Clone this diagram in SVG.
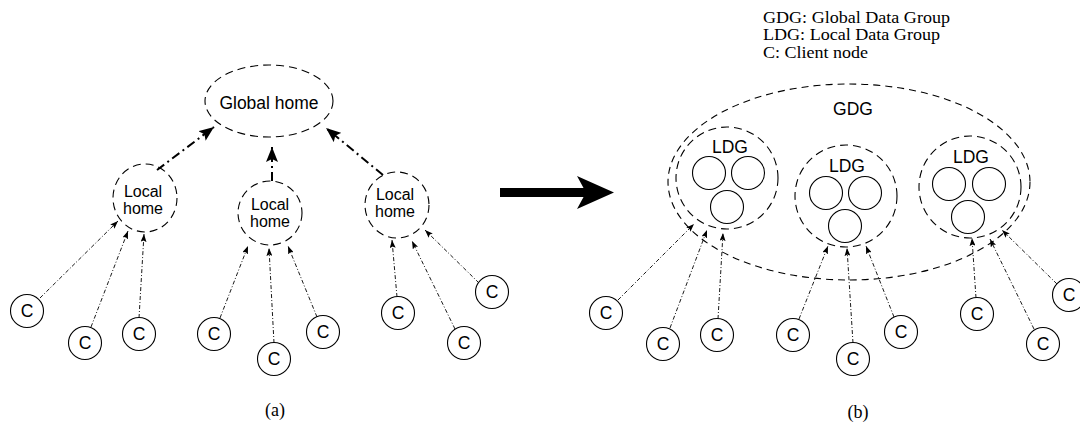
<svg xmlns="http://www.w3.org/2000/svg" width="1080" height="426" viewBox="0 0 1080 426">
<style>
.bg{fill:#fff}
.home{fill:none;stroke:#000;stroke-width:1.1;stroke-dasharray:8 5}
.grp{fill:none;stroke:#000;stroke-width:1.1;stroke-dasharray:7 5}
.cl{fill:#fff;stroke:#000;stroke-width:1.1}
.sub{fill:none;stroke:#000;stroke-width:1.1}
.lbl{font-family:"Liberation Sans",Arial,sans-serif;font-size:17.5px;fill:#000;text-anchor:middle}
.lh{font-family:"Liberation Sans",Arial,sans-serif;font-size:16px;fill:#000;text-anchor:middle}
.cap{font-family:"Liberation Serif","Times New Roman",serif;font-size:18px;fill:#000}
.leg{font-family:"Liberation Serif","Times New Roman",serif;font-size:16px;fill:#000}
.up{fill:none;stroke:#000;stroke-width:2;stroke-dasharray:9 4 2 4}
.cn{fill:none;stroke:#000;stroke-width:0.9;stroke-dasharray:4 2 1 2}
</style>
<defs>
<marker id="big" markerUnits="userSpaceOnUse" markerWidth="16" markerHeight="12" refX="15" refY="6" orient="auto">
<path d="M0,0 L15,6 L0,12 L3,6 z" fill="#000"/>
</marker>
<marker id="sm" markerUnits="userSpaceOnUse" markerWidth="9" markerHeight="6" refX="8" refY="3" orient="auto">
<path d="M0,0 L8,3 L0,6 L1.5,3 z" fill="#000"/>
</marker>
</defs>
<rect class="bg" x="0" y="0" width="1080" height="426"/>

<g id="connectors">
<line class="up" x1="157" y1="170" x2="214" y2="127" marker-end="url(#big)"/>
<line class="up" x1="272" y1="181" x2="272" y2="147" marker-end="url(#big)"/>
<line class="up" x1="383" y1="175" x2="326" y2="128" marker-end="url(#big)"/>

<line class="cn" x1="40" y1="298" x2="118" y2="221" marker-end="url(#sm)"/>
<line class="cn" x1="91" y1="327" x2="128" y2="231" marker-end="url(#sm)"/>
<line class="cn" x1="139" y1="318" x2="144" y2="234" marker-end="url(#sm)"/>
<line class="cn" x1="220" y1="318" x2="248" y2="246" marker-end="url(#sm)"/>
<line class="cn" x1="274" y1="343" x2="269" y2="248" marker-end="url(#sm)"/>
<line class="cn" x1="317" y1="317" x2="288" y2="246" marker-end="url(#sm)"/>
<line class="cn" x1="397" y1="297" x2="392" y2="240" marker-end="url(#sm)"/>
<line class="cn" x1="455" y1="329" x2="412" y2="241" marker-end="url(#sm)"/>
<line class="cn" x1="479" y1="283" x2="425" y2="230" marker-end="url(#sm)"/>

<line class="cn" x1="618" y1="300" x2="694" y2="224" marker-end="url(#sm)"/>
<line class="cn" x1="670" y1="328" x2="707" y2="230" marker-end="url(#sm)"/>
<line class="cn" x1="718" y1="319" x2="723" y2="233" marker-end="url(#sm)"/>
<line class="cn" x1="799" y1="319" x2="828" y2="246" marker-end="url(#sm)"/>
<line class="cn" x1="853" y1="343" x2="847" y2="248" marker-end="url(#sm)"/>
<line class="cn" x1="894" y1="317" x2="866" y2="246" marker-end="url(#sm)"/>
<line class="cn" x1="976" y1="298" x2="972" y2="238" marker-end="url(#sm)"/>
<line class="cn" x1="1034" y1="329" x2="990" y2="239" marker-end="url(#sm)"/>
<line class="cn" x1="1057" y1="284" x2="1002" y2="230" marker-end="url(#sm)"/>
</g>

<g id="global-home">
<ellipse class="home" cx="269" cy="101" rx="64" ry="36"/>
<text class="lbl" x="269" y="109">Global home</text>
</g>
<g id="local-home-1">
<ellipse class="home" cx="145" cy="198" rx="32" ry="34"/>
<text class="lh" x="143" y="197">Local</text>
<text class="lh" x="143" y="214">home</text>
</g>
<g id="local-home-2">
<ellipse class="home" cx="270" cy="213" rx="32" ry="32"/>
<text class="lh" x="270" y="210">Local</text>
<text class="lh" x="270" y="227">home</text>
</g>
<g id="local-home-3">
<ellipse class="home" cx="397" cy="205" rx="32" ry="33"/>
<text class="lh" x="395" y="200">Local</text>
<text class="lh" x="395" y="217">home</text>
</g>

<g id="a-c1"><circle class="cl" cx="27" cy="311" r="16.5"/><text class="lbl" x="27" y="317">C</text></g>
<g id="a-c2"><circle class="cl" cx="85" cy="343" r="16.5"/><text class="lbl" x="85" y="349">C</text></g>
<g id="a-c3"><circle class="cl" cx="139" cy="334" r="16.5"/><text class="lbl" x="139" y="340">C</text></g>
<g id="a-c4"><circle class="cl" cx="214" cy="334" r="16.5"/><text class="lbl" x="214" y="340">C</text></g>
<g id="a-c5"><circle class="cl" cx="274" cy="359" r="16.5"/><text class="lbl" x="274" y="365">C</text></g>
<g id="a-c6"><circle class="cl" cx="323" cy="332" r="16.5"/><text class="lbl" x="323" y="338">C</text></g>
<g id="a-c7"><circle class="cl" cx="398" cy="313" r="16.5"/><text class="lbl" x="398" y="319">C</text></g>
<g id="a-c8"><circle class="cl" cx="464" cy="343" r="16.5"/><text class="lbl" x="464" y="349">C</text></g>
<g id="a-c9"><circle class="cl" cx="492" cy="292" r="16.5"/><text class="lbl" x="492" y="298">C</text></g>

<g id="transform-arrow">
<rect x="500" y="188" width="86" height="9" fill="#000"/>
<path d="M577,176 L614,192.5 L577,209 L586,192.5 z" fill="#000"/>
</g>

<g id="legend">
<text class="leg" x="763" y="22.5" textLength="187" lengthAdjust="spacingAndGlyphs">GDG: Global Data Group</text>
<text class="leg" x="763" y="40" textLength="177" lengthAdjust="spacingAndGlyphs">LDG: Local Data Group</text>
<text class="leg" x="763" y="57.5" textLength="105" lengthAdjust="spacingAndGlyphs">C: Client node</text>
</g>

<g id="gdg">
<ellipse class="grp" cx="849" cy="182" rx="181" ry="98"/>
<text class="lbl" x="853" y="115">GDG</text>
</g>
<g id="ldg-1">
<circle class="home" cx="727" cy="178" r="51"/>
<text class="lbl" x="730" y="153">LDG</text>
<circle class="sub" cx="709" cy="173" r="16.5"/>
<circle class="sub" cx="748" cy="173" r="16.5"/>
<circle class="sub" cx="727" cy="207" r="16.5"/>
</g>
<g id="ldg-2">
<circle class="home" cx="846" cy="196" r="51"/>
<text class="lbl" x="847" y="172">LDG</text>
<circle class="sub" cx="826" cy="193" r="16.5"/>
<circle class="sub" cx="865" cy="193" r="16.5"/>
<circle class="sub" cx="845" cy="226" r="16.5"/>
</g>
<g id="ldg-3">
<circle class="home" cx="970" cy="187" r="51"/>
<text class="lbl" x="971" y="163">LDG</text>
<circle class="sub" cx="949" cy="184" r="16.5"/>
<circle class="sub" cx="989" cy="184" r="16.5"/>
<circle class="sub" cx="968" cy="217" r="16.5"/>
</g>

<g id="b-c1"><circle class="cl" cx="606" cy="313" r="16.5"/><text class="lbl" x="606" y="319">C</text></g>
<g id="b-c2"><circle class="cl" cx="663" cy="344" r="16.5"/><text class="lbl" x="663" y="350">C</text></g>
<g id="b-c3"><circle class="cl" cx="717" cy="335" r="16.5"/><text class="lbl" x="717" y="341">C</text></g>
<g id="b-c4"><circle class="cl" cx="793" cy="335" r="16.5"/><text class="lbl" x="793" y="341">C</text></g>
<g id="b-c5"><circle class="cl" cx="853" cy="359" r="16.5"/><text class="lbl" x="853" y="365">C</text></g>
<g id="b-c6"><circle class="cl" cx="901" cy="332" r="16.5"/><text class="lbl" x="901" y="338">C</text></g>
<g id="b-c7"><circle class="cl" cx="977" cy="314" r="16.5"/><text class="lbl" x="977" y="320">C</text></g>
<g id="b-c8"><circle class="cl" cx="1043" cy="344" r="16.5"/><text class="lbl" x="1043" y="350">C</text></g>
<g id="b-c9"><circle class="cl" cx="1069" cy="295" r="16.5"/><text class="lbl" x="1069" y="301">C</text></g>

<g id="captions">
<text class="cap" x="275" y="416" text-anchor="middle">(a)</text>
<text class="cap" x="858" y="418" text-anchor="middle">(b)</text>
</g>
</svg>
